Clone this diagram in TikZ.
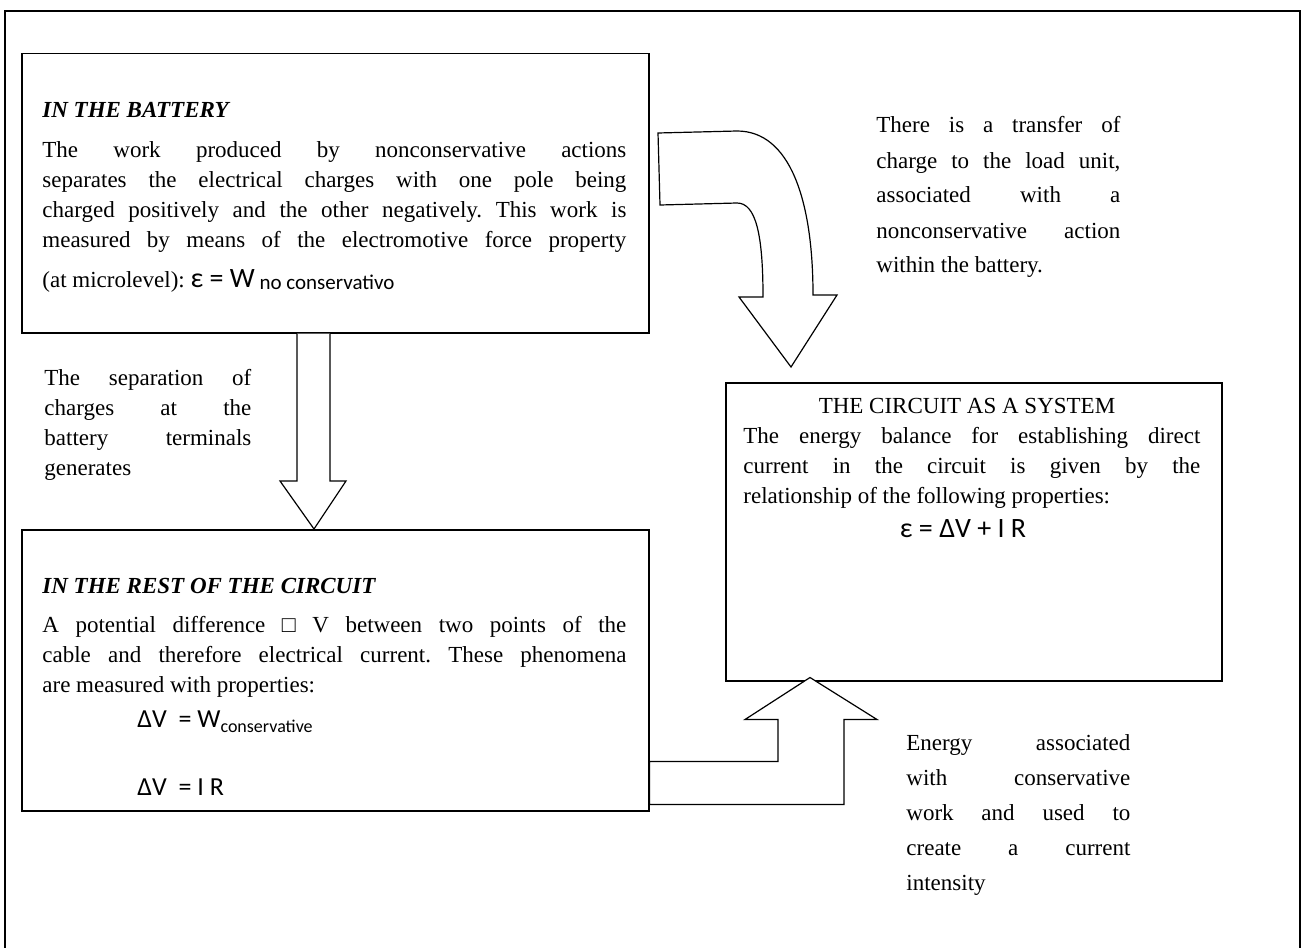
\documentclass[tikz,border=0pt]{standalone}
\usepackage{fontspec}
\setmainfont{Liberation Serif}
\newfontfamily\formfont{Carlito}
\usetikzlibrary{calc}
\frenchspacing
\newcommand\bodyfont{\fontsize{11.5pt}{15pt}\selectfont}
\newcommand\notefont{\fontsize{11.5pt}{17.5pt}\selectfont}
\newcommand\eqfont[1]{\formfont\fontsize{#1}{#1}\selectfont}
\newcommand\subfont[1]{\formfont\fontsize{#1}{#1}\selectfont}
\tikzset{
  panel/.style={draw, line width=0.75pt, inner sep=0pt, anchor=north west},
  bodytext/.style={font=\bodyfont, align=justify, inner sep=0pt, anchor=base west},
  notetext/.style={font=\notefont, align=justify, inner sep=0pt, anchor=base west},
  plaintext/.style={font=\bodyfont, inner sep=0pt, anchor=base west},
  headtext/.style={font=\bodyfont\bfseries\itshape, inner sep=0pt, anchor=base west},
  blockarrow/.style={draw, fill=white, line width=0.6pt, line join=miter},
}
\begin{document}
\begin{tikzpicture}[x=0.5pt, y=-0.5pt]
  \useasboundingbox (0,0) rectangle (1304,947);
  \clip (0,0) rectangle (1304,947);
  % Outer frame (runs past the bottom edge)
  \draw[line width=0.9pt] (5,11) rectangle (1300,990);
  % The three boxes
  \node[panel, minimum width=313.5pt, minimum height=139.5pt] (battery) at (21,53) {};
  \node[panel, minimum width=313.5pt, minimum height=140.5pt] (rest) at (21,529) {};
  \node[panel, minimum width=248pt, minimum height=149pt] (circuit) at (725,382) {};
  % Down arrow: battery -> rest of the circuit
  \path (battery.south west) ++(293,0) coordinate (sepTop);
  \path (rest.north west) ++(293,0) coordinate (sepTip);
  \draw[blockarrow] ($(sepTop)+(-17,0)$) |- ($(sepTip)+(-34,-48)$) -- (sepTip)
    -- ($(sepTip)+(32,-48)$) -| ($(sepTop)+(16,0)$);
  % Bent arrow: battery -> circuit as a system
  \draw[blockarrow] (658,133) -- (737,131)
    .. controls (790,131) and (813,200) .. (813,295)
    -- (837,295) -- (791,367) -- (739,297) -- (763,297)
    .. controls (763,235) and (756,203) .. (737,203)
    -- (660,205) -- cycle;
  % Up arrow: rest of the circuit -> circuit as a system
  \path (rest.south east) ++(0,-50) coordinate (upTail);
  \path (circuit.south west) ++(85,-4) coordinate (upTip);
  \draw[blockarrow] (upTail) -| ($(upTip)+(-32,42)$) -- ($(upTip)+(-65,42)$) -- (upTip)
    -- ($(upTip)+(67,42)$) -- ($(upTip)+(34,42)$) |- ($(upTail)+(0,43)$) -- cycle;
  % Battery text
  \node[headtext] (batteryhead) at (42,118) {IN THE BATTERY};
  \node[bodytext, text width=292pt] (batterytext) at (42,157) {\parfillskip=0pt
    The work produced by nonconservative actions\linebreak
    separates the electrical charges with one pole being\linebreak
    charged positively and the other negatively. This work is\linebreak
    measured by means of the electromotive force property\par};
  \node[plaintext] (batteryeq) at (42,287) {(at microlevel): {\eqfont{14pt}ε = W}\raisebox{-1pt}{\subfont{10.5pt}\ no conservativo}};
  % Side notes
  \node[bodytext, text width=103.5pt] (sepnote) at (44,385) {The separation of\linebreak
    charges at the\linebreak battery terminals\linebreak generates};
  \node[notetext, text width=122pt] (transnote) at (876,133) {There is a transfer of\linebreak
    charge to the load unit,\linebreak associated with a\linebreak
    nonconservative action\linebreak within the battery.};
  \node[notetext, text width=112pt] (energynote) at (906,750) {Energy associated\linebreak
    with conservative\linebreak work and used to\linebreak create a current\linebreak intensity};
  % Rest of the circuit text
  \node[headtext] (resthead) at (42,593) {IN THE REST OF THE CIRCUIT};
  \node[bodytext, text width=292pt] (resttext) at (42,632) {A potential difference □ V between two points of the\linebreak
    cable and therefore electrical current. These phenomena\linebreak
    are measured with properties:};
  \node[plaintext, font={\eqfont{13pt}}] (resteqa) at (137,727) {ΔV\ \ = W\raisebox{-2.5pt}{\subfont{9pt}conservative}};
  \node[plaintext, font={\eqfont{13pt}}] (resteqb) at (137,795) {ΔV\ \ = I R};
  % Circuit as a system text
  \node[font=\bodyfont, anchor=base, inner sep=0pt] (circuithead) at (967,413) {THE CIRCUIT AS A SYSTEM};
  \node[bodytext, text width=228.5pt] (circuittext) at (743,443) {The energy balance for establishing direct\linebreak
    current in the circuit is given by the\linebreak
    relationship of the following properties:};
  \node[font={\eqfont{14pt}}, anchor=base, inner sep=0pt] (circuiteq) at (963,537) {ε = ΔV + I R};
\end{tikzpicture}
\end{document}
